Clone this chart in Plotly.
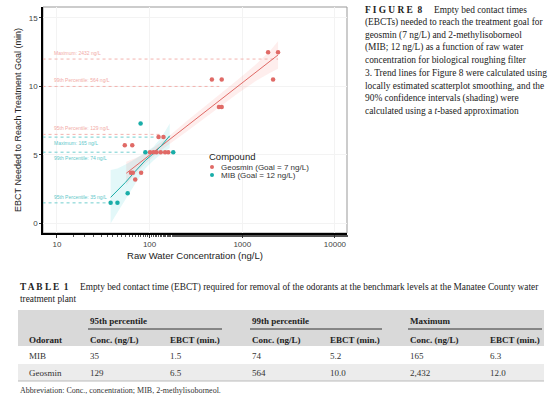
import plotly.graph_objects as go

W, H = 556, 396

# ---------------- data ----------------
geo_x = [1900, 2432, 470, 600, 2150, 560, 600, 125, 141, 54, 65,
         101, 110, 119, 132, 147, 159, 63, 66, 81, 70]
geo_y = [12.5, 12.5, 10.5, 10.5, 10.5, 8.5, 8.5, 6.3, 6.3, 5.7, 5.7,
         5.2, 5.2, 5.2, 5.2, 5.2, 5.2, 3.7, 3.7, 3.7, 3.2]
mib_x = [38, 45, 58, 80, 90, 180]
mib_y = [1.5, 1.5, 2.2, 7.3, 5.2, 5.2]

geo_fit_x = [56, 70, 90, 120, 160, 250, 400, 600, 900, 1400, 2000, 2432]
geo_fit_y = [3.66, 4.17, 4.74, 5.40, 6.06, 7.08, 8.15, 9.08, 10.0, 11.0, 11.8, 12.3]
geo_lo = [2.8, 3.6, 4.35, 5.1, 5.75, 6.7, 7.75, 8.6, 9.5, 10.4, 11.0, 11.3]
geo_hi = [4.5, 4.75, 5.1, 5.7, 6.35, 7.45, 8.55, 9.55, 10.5, 11.6, 12.6, 13.3]

mib_fit_x = [38, 45, 55, 70, 90, 110, 135, 165]
mib_fit_y = [1.9, 2.4, 3.0, 3.8, 4.6, 5.1, 5.7, 6.4]
mib_lo = [0.0, 0.8, 1.8, 2.9, 4.0, 4.6, 5.1, 5.5]
mib_hi = [3.9, 4.0, 4.3, 4.7, 5.2, 5.6, 6.3, 7.3]

# benchmark table (odorant rows)
odorants = ["MIB", "Geosmin"]
groups = ["95th percentile", "99th percentile", "Maximum"]
conc_95 = [35, 129]
ebct_95 = [1.5, 6.5]
conc_99 = [74, 564]
ebct_99 = [5.2, 10.0]
conc_max = [165, 2432]
ebct_max = [6.3, 12.0]

x_ticks = [10, 100, 1000, 10000]
y_ticks = [0, 5, 10, 15]

GEO = "#E06A66"
MIB = "#19ADA8"
GEO_L = "#F2AAA6"
MIB_L = "#62C8CA"

SANS = "Liberation Sans"
SERIF = "Liberation Serif"


def px(x):
    return x / W


def py(y):
    return 1 - y / H


fig = go.Figure()

# confidence bands
fig.add_trace(go.Scatter(x=geo_fit_x + geo_fit_x[::-1], y=geo_hi + geo_lo[::-1],
                         mode="lines", fill="toself", fillcolor="rgba(248,118,109,0.12)",
                         line=dict(width=0), hoverinfo="skip", showlegend=False))
fig.add_trace(go.Scatter(x=mib_fit_x + mib_fit_x[::-1], y=mib_hi + mib_lo[::-1],
                         mode="lines", fill="toself", fillcolor="rgba(0,191,196,0.11)",
                         line=dict(width=0), hoverinfo="skip", showlegend=False))

# benchmark reference lines (label above or below the line)
bench = [
    ("Maximum", conc_max[1], ebct_max[1], GEO_L, "bottom"),
    ("99th Percentile", conc_99[1], ebct_99[1], GEO_L, "bottom"),
    ("95th Percentile", conc_95[1], ebct_95[1], GEO_L, "bottom"),
    ("Maximum", conc_max[0], ebct_max[0], MIB_L, "top"),
    ("99th Percentile", conc_99[0], ebct_99[0], MIB_L, "top"),
    ("95th Percentile", conc_95[0], ebct_95[0], MIB_L, "bottom"),
]
for name, c, e, col, side in bench:
    fig.add_trace(go.Scatter(x=[7.0, c], y=[e, e], mode="lines",
                             line=dict(color=col, width=0.9, dash="dot"),
                             hoverinfo="skip", showlegend=False))
    fig.add_annotation(x=0.95, y=e, xref="x", yref="y", xanchor="left", yanchor=side,
                       text=f"{name}: {c} ng/L", showarrow=False,
                       yshift=1 if side == "bottom" else -1,
                       font=dict(family=SANS, size=5, color=col))

# trend lines
fig.add_trace(go.Scatter(x=geo_fit_x, y=geo_fit_y, mode="lines",
                         line=dict(color=GEO, width=1), showlegend=False))
fig.add_trace(go.Scatter(x=mib_fit_x, y=mib_fit_y, mode="lines",
                         line=dict(color=MIB, width=1), showlegend=False))

# points
fig.add_trace(go.Scatter(x=geo_x, y=geo_y, mode="markers",
                         marker=dict(color=GEO, size=4.5), showlegend=False))
fig.add_trace(go.Scatter(x=mib_x, y=mib_y, mode="markers",
                         marker=dict(color=MIB, size=4.5), showlegend=False))

fig.update_xaxes(type="log", range=[0.85, 4.13], domain=[px(43), px(347)],
                 tickvals=x_ticks, ticktext=[str(v) for v in x_ticks],
                 showline=True, linecolor="black", linewidth=1.5, mirror=False,
                 ticks="outside", ticklen=3, tickcolor="#333",
                 minor=dict(ticks="outside", ticklen=2, tickcolor="#555", showgrid=False),
                 showgrid=True, gridcolor="#f3f3f3", zeroline=False,
                 tickfont=dict(family=SANS, size=8, color="#444"),
                 title=dict(text="Raw Water Concentration (ng/L)", standoff=4,
                            font=dict(family=SANS, size=9.5, color="#222")))
fig.update_yaxes(range=[-0.7, 15.8], domain=[py(233), py(7)],
                 tickvals=y_ticks, ticktext=[str(v) for v in y_ticks],
                 showline=True, linecolor="black", linewidth=1.5,
                 ticks="outside", ticklen=2, tickcolor="#333",
                 showgrid=True, gridcolor="#f3f3f3", zeroline=False,
                 tickfont=dict(family=SANS, size=8, color="#444"),
                 title=dict(text="EBCT Needed to Reach Treatment Goal (min)", standoff=6,
                            font=dict(family=SANS, size=9, color="#222")))

shapes = []
# panel border
shapes.append(dict(type="rect", xref="paper", yref="paper", x0=px(43), x1=px(347),
                   y0=py(233), y1=py(7), line=dict(color="#999", width=1), layer="below"))

anns = []
# legend
anns.append(dict(x=px(207), y=py(156), text="Compound", font=dict(family=SANS, size=9.5, color="#222")))
for i, (lab, col) in enumerate([("Geosmin (Goal = 7 ng/L)", GEO), ("MIB (Goal = 12 ng/L)", MIB)]):
    yy = 167 + i * 8
    shapes.append(dict(type="circle", xref="paper", yref="paper", x0=px(210), x1=px(214),
                       y0=py(yy + 2), y1=py(yy - 2), fillcolor=col, line=dict(width=0)))
    anns.append(dict(x=px(219), y=py(yy), text=lab, font=dict(family=SANS, size=8, color="#333")))

# caption
cap = [
    "<b>F I G U R E  8</b>     Empty bed contact times",
    "(EBCTs) needed to reach the treatment goal for",
    "geosmin (7 ng/L) and 2-methylisoborneol",
    "(MIB; 12 ng/L) as a function of raw water",
    "concentration for biological roughing filter",
    "3. Trend lines for Figure 8 were calculated using",
    "locally estimated scatterplot smoothing, and the",
    "90% confidence intervals (shading) were",
    "calculated using a <i>t</i>-based approximation",
]
for i, t in enumerate(cap):
    anns.append(dict(x=px(363), y=py(10 + i * 12.6), text=t,
                     font=dict(family=SERIF, size=9.4, color="#222")))

# table title
anns.append(dict(x=px(18), y=py(287),
                 text="<b>T A B L E  1</b>     Empty bed contact time (EBCT) required for removal of the odorants at the benchmark levels at the Manatee County water",
                 font=dict(family=SERIF, size=9.3, color="#222")))
anns.append(dict(x=px(18), y=py(299), text="treatment plant",
                 font=dict(family=SERIF, size=9.3, color="#222")))

# table backgrounds
shapes.append(dict(type="rect", xref="paper", yref="paper", x0=px(18), x1=px(544),
                   y0=py(346), y1=py(310), fillcolor="#d9d9d9", line=dict(width=0), layer="below"))
shapes.append(dict(type="rect", xref="paper", yref="paper", x0=px(18), x1=px(544),
                   y0=py(381), y1=py(364), fillcolor="#ececec", line=dict(width=0), layer="below"))
shapes.append(dict(type="line", xref="paper", yref="paper", x0=px(18), x1=px(544),
                   y0=py(381), y1=py(381), line=dict(color="#bbb", width=1)))

col_conc_x = [88, 250, 408]
col_ebct_x = [168, 328, 488]
group_end = [222, 382, 542]
for g, cx, ge in zip(groups, col_conc_x, group_end):
    anns.append(dict(x=px(cx), y=py(321), text=f"<b>{g}</b>",
                     font=dict(family=SERIF, size=9, color="#222")))
    shapes.append(dict(type="line", xref="paper", yref="paper", x0=px(cx), x1=px(ge),
                       y0=py(329), y1=py(329), line=dict(color="#333", width=1)))
anns.append(dict(x=px(27), y=py(340), text="<b>Odorant</b>", font=dict(family=SERIF, size=9, color="#222")))
for cx, ex in zip(col_conc_x, col_ebct_x):
    anns.append(dict(x=px(cx), y=py(340), text="<b>Conc. (ng/L)</b>", font=dict(family=SERIF, size=9, color="#222")))
    anns.append(dict(x=px(ex), y=py(340), text="<b>EBCT (min.)</b>", font=dict(family=SERIF, size=9, color="#222")))

for i, od in enumerate(odorants):
    yy = 356 + i * 16.5
    vals = [f"{conc_95[i]:,}", f"{ebct_95[i]:.1f}", f"{conc_99[i]:,}", f"{ebct_99[i]:.1f}",
            f"{conc_max[i]:,}", f"{ebct_max[i]:.1f}"]
    xs = [col_conc_x[0], col_ebct_x[0], col_conc_x[1], col_ebct_x[1], col_conc_x[2], col_ebct_x[2]]
    anns.append(dict(x=px(27), y=py(yy), text=od, font=dict(family=SERIF, size=9, color="#333")))
    for v, xx in zip(vals, xs):
        anns.append(dict(x=px(xx), y=py(yy), text=v, font=dict(family=SERIF, size=9, color="#333")))

anns.append(dict(x=px(18), y=py(390), text="Abbreviation: Conc., concentration; MIB, 2-methylisoborneol.",
                 font=dict(family=SERIF, size=8, color="#333")))

for a in anns:
    a.setdefault("xref", "paper")
    a.setdefault("yref", "paper")
    a.setdefault("xanchor", "left")
    a.setdefault("yanchor", "middle")
    a.setdefault("showarrow", False)
    fig.add_annotation(**a)

fig.update_layout(width=W, height=H, margin=dict(l=0, r=0, t=0, b=0),
                  paper_bgcolor="white", plot_bgcolor="white", shapes=shapes,
                  showlegend=False)

fig.write_html("out.html")
